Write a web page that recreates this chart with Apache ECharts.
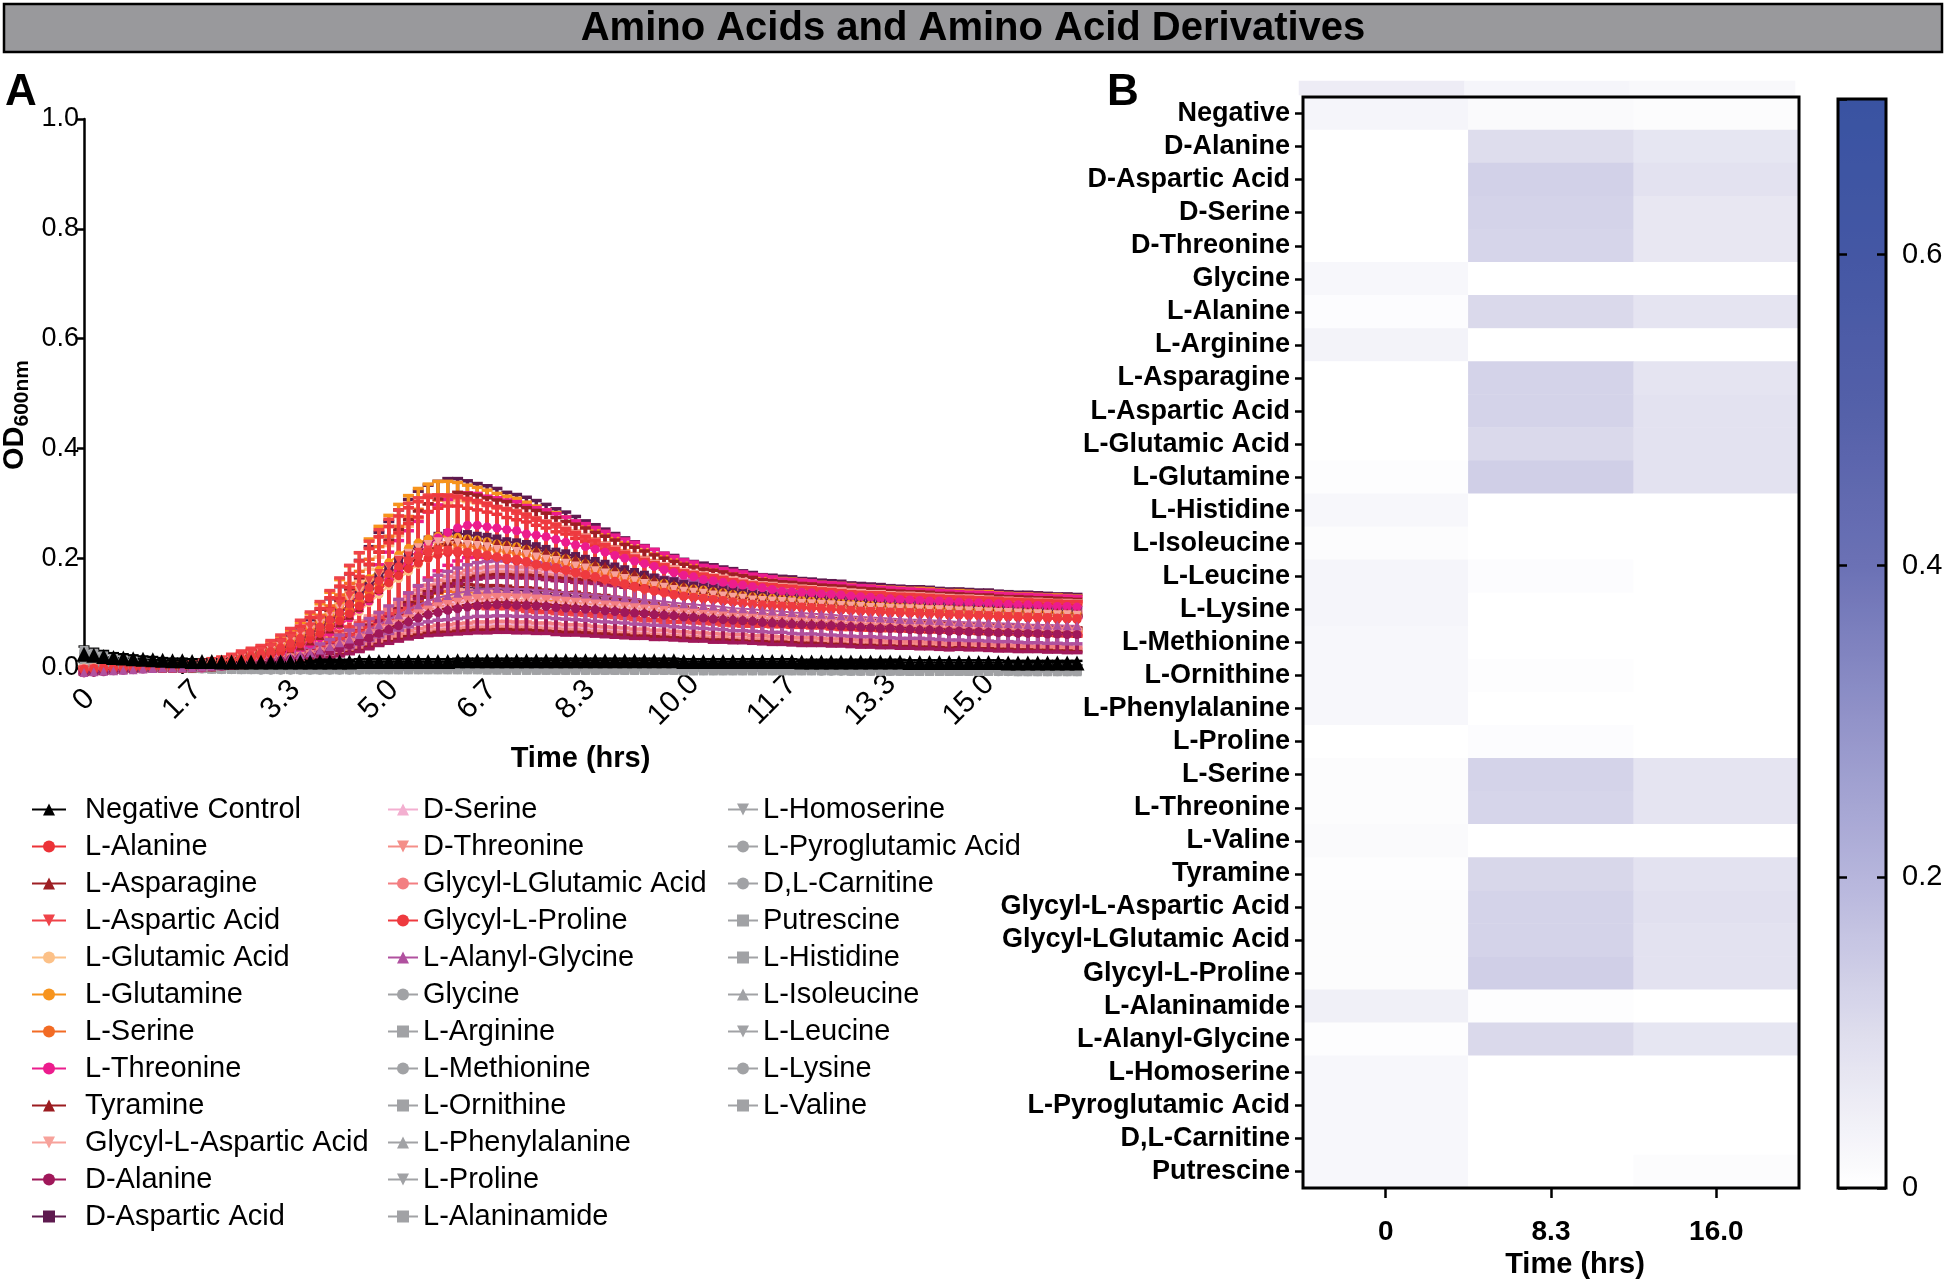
<!DOCTYPE html>
<html><head><meta charset="utf-8">
<script src="https://cdn.jsdelivr.net/npm/echarts@6/dist/echarts.min.js"></script>
<style>html,body{margin:0;padding:0;background:#fff}#c{width:1946px;height:1281px}</style>
</head><body><div id="c"></div>
<script>
// ================= DATA =================
const chartTitle = 'Amino Acids and Amino Acid Derivatives';
const timeMin = [0,10,20,30,40,50,60,70,80,90,100,110,120,130,140,150,160,170,180,190,200,210,220,230,240,250,260,270,280,290,300,310,320,330,340,350,360,370,380,390,400,410,420,430,440,450,460,470,480,490,500,510,520,530,540,550,560,570,580,590,600,610,620,630,640,650,660,670,680,690,700,710,720,730,740,750,760,770,780,790,800,810,820,830,840,850,860,870,880,890,900,910,920,930,940,950,960,970,980,990,1000,1010];
const xTickLabels = ['0','1.7','3.3','5.0','6.7','8.3','10.0','11.7','13.3','15.0'];
const yTickLabels = ['0.0','0.2','0.4','0.6','0.8','1.0'];

// OD600 means (x1000)
const mNeg = [25,23,21,19,18,17,16,15,14,13,13,12,12,12,11,11,11,11,11,11,11,11,11,11,11,11,11,11,12,12,12,12,12,12,12,12,12,12,13,13,13,13,13,13,13,13,13,13,13,13,13,13,13,13,13,13,13,13,13,13,13,12,12,12,12,12,12,12,12,12,12,12,12,11,11,11,11,11,11,11,11,11,11,11,10,10,10,10,10,10,10,10,10,10,9,9,9,9,9,9,9,9];
const mLAla = [-4,-3,-2,-1,0,0,0,0,0,0,0,2,4,6,8,11,13,17,21,25,29,36,44,53,63,74,86,99,113,128,143,155,168,181,191,200,206,210,210,208,206,204,202,197,195,193,189,185,181,179,174,170,166,162,158,153,149,145,141,137,134,130,128,126,124,122,120,118,116,113,112,111,110,109,108,107,106,105,104,103,102,101,100,100,99,98,98,97,96,96,95,95,94,93,93,92,91,91,90,89,89,88];
const mLAsn = [-6,-5,-4,-3,-2,-1,0,0,0,0,0,0,2,5,7,9,12,14,19,24,28,33,40,49,59,71,82,96,110,127,143,160,174,188,202,214,223,230,235,235,233,230,228,226,221,219,216,212,207,202,200,195,190,186,181,176,172,167,162,157,153,150,146,143,141,139,136,134,132,129,127,126,125,123,122,121,120,119,118,116,115,114,113,112,111,111,110,109,109,108,107,106,106,105,104,104,103,102,102,101,100,99];
const mLAsp = [-3,-2,-1,0,0,0,0,0,0,2,4,6,9,11,13,17,22,26,30,37,45,54,65,75,88,101,116,131,146,159,172,185,196,204,211,215,215,213,211,209,206,202,200,198,194,189,185,183,178,174,170,166,161,157,153,148,144,140,138,133,131,129,127,125,123,120,118,116,115,114,113,112,111,110,109,108,106,105,104,103,103,102,101,101,100,99,99,98,97,97,96,95,95,94,94,93,92,92,91,90,90,89];
const mLGlu = [0,0,0,0,1,2,3,4,5,6,6,7,8,9,10,11,13,15,18,22,26,31,37,46,55,66,77,90,103,119,134,150,163,176,189,200,209,216,220,220,218,216,213,211,207,205,202,198,194,189,187,183,178,174,169,165,161,156,152,147,143,141,136,134,132,130,128,125,123,121,119,118,117,116,114,113,112,111,110,109,108,107,106,105,104,104,103,102,102,101,100,100,99,98,98,97,96,96,95,94,94,93];
const mLGln = [-2,-1,0,0,0,0,0,0,0,0,2,5,7,10,12,14,19,24,29,34,41,50,60,72,84,98,113,130,146,163,178,192,206,218,228,235,240,240,238,235,233,230,226,223,221,216,211,206,204,199,194,190,185,180,175,170,166,161,156,154,149,146,144,142,139,137,134,132,130,128,127,126,125,124,122,121,120,119,118,116,115,114,114,113,112,112,111,110,109,109,108,107,107,106,105,104,104,103,102,102,101,100];
const mLSer = [-1,0,0,0,0,0,0,0,0,0,0,2,5,7,9,11,14,18,23,27,32,38,47,56,68,79,92,106,122,137,153,167,180,194,205,214,221,225,225,223,221,218,216,212,209,207,203,198,194,191,187,182,178,173,169,164,160,155,151,146,144,140,137,135,133,131,128,126,124,122,120,119,118,117,116,115,114,113,111,110,109,108,107,107,106,105,105,104,103,103,102,101,101,100,99,99,98,97,97,96,95,95];
const mLThr = [-2,-2,-1,-1,0,0,0,0,0,0,0,0,0,3,5,8,10,13,16,21,26,31,36,44,55,65,78,91,107,122,140,159,177,192,208,224,237,247,255,260,260,257,255,252,250,244,242,239,234,229,224,221,216,211,205,200,195,190,185,179,174,169,166,161,159,156,153,151,148,146,143,140,139,138,137,135,134,133,131,130,129,127,126,125,124,123,122,122,121,120,119,119,118,117,116,115,115,114,113,112,112,111];
const mTyr = [-6,-5,-4,-3,-2,-1,0,0,0,0,0,1,2,2,4,5,6,8,10,12,14,17,20,23,28,32,38,44,50,58,65,73,80,88,95,101,106,109,113,116,118,119,120,120,119,119,118,116,115,114,113,112,110,109,107,106,104,103,102,100,99,97,96,94,93,92,91,89,88,87,86,85,84,83,82,81,80,79,78,77,76,75,75,74,73,72,72,71,70,70,69,68,68,67,67,66,66,65,65,64,64,63];
const mGlyAsp = [-1,0,0,0,0,0,0,0,0,0,2,5,7,9,12,14,18,23,28,32,39,48,58,69,81,94,108,124,140,156,170,184,198,209,219,225,230,230,228,225,223,221,216,214,212,207,202,198,196,191,186,182,177,173,168,163,159,154,150,147,143,140,138,136,133,131,129,127,124,123,122,121,120,118,117,116,115,114,113,112,110,110,109,108,108,107,106,106,105,104,104,103,102,101,101,100,99,99,98,97,97,96];
const mDAla = [-9,-8,-7,-5,-4,-3,-2,-1,0,0,0,1,2,2,3,5,6,7,9,12,14,16,19,22,26,31,36,42,48,55,63,70,77,84,91,97,101,105,108,111,113,114,115,115,114,114,113,112,110,109,108,107,106,104,103,101,100,99,97,96,95,93,92,91,89,88,87,86,85,83,82,81,80,79,78,78,77,76,75,74,73,72,72,71,70,69,69,68,67,67,66,66,65,64,64,63,63,63,62,62,61,61];
const mDAsp = [-5,-4,-3,-2,-1,0,0,0,0,0,0,2,5,7,10,12,15,20,25,29,34,42,51,61,74,86,100,115,132,149,167,181,196,211,223,233,240,245,245,243,240,238,235,230,228,225,221,216,211,208,203,198,194,189,184,179,174,169,164,159,157,152,149,147,145,142,140,137,135,132,131,130,129,127,126,125,124,123,121,120,119,118,117,116,115,115,114,113,112,112,111,110,110,109,108,107,107,106,105,104,104,103];
const mDSer = [-3,-3,-2,-2,-1,-1,0,0,0,0,0,1,2,3,4,5,7,8,10,13,16,18,21,25,30,35,41,47,55,62,71,79,87,95,103,109,114,118,122,125,128,129,130,130,129,129,127,126,125,124,122,121,119,118,116,115,113,112,110,108,107,105,104,102,101,99,98,97,96,94,93,92,91,90,89,88,87,86,85,84,83,82,81,80,79,79,78,77,76,75,75,74,73,73,72,72,71,71,70,70,69,69];
const mDThr = [-4,-3,-3,-2,-2,-1,-1,0,0,0,0,1,2,3,4,5,6,8,10,13,15,18,21,24,29,34,39,46,53,60,68,76,84,91,99,105,110,114,118,121,123,124,125,125,124,124,123,121,120,119,118,116,115,113,112,110,109,107,106,104,103,101,100,98,97,96,94,93,92,91,90,88,87,86,85,84,83,82,81,80,80,79,78,77,76,76,75,74,73,73,72,71,71,70,70,69,69,68,68,67,67,66];
const mGlyGlu = [-2,-2,-1,-1,0,0,0,0,0,0,0,1,2,3,4,5,7,9,11,14,16,19,22,26,31,36,43,49,57,65,74,82,90,99,107,113,119,123,127,130,133,134,135,135,134,134,132,131,130,128,127,126,124,122,121,119,117,116,114,113,111,109,108,106,105,103,102,101,99,98,97,95,94,93,92,91,90,89,88,87,86,85,84,83,82,82,81,80,79,78,78,77,76,76,75,75,74,73,73,72,72,71];
const mGlyPro = [-2,-1,0,0,0,0,0,0,0,0,2,4,6,9,11,13,17,22,26,30,37,45,54,65,75,88,101,116,131,146,159,172,185,196,204,211,215,215,213,211,209,206,202,200,198,194,189,185,183,178,174,170,166,161,157,153,148,144,140,138,133,131,129,127,125,123,120,118,116,115,114,113,112,111,110,109,108,106,105,104,103,103,102,101,101,100,99,99,98,97,97,96,95,95,94,94,93,92,92,91,90,90];
const mAlaGly = [-8,-7,-6,-5,-4,-3,-2,-1,0,0,0,1,2,3,4,6,7,9,12,15,17,20,24,28,33,39,46,53,61,70,79,88,97,106,115,122,128,132,136,140,143,144,145,145,144,144,142,141,139,138,136,135,133,131,130,128,126,124,123,121,119,117,116,114,113,111,109,108,107,105,104,103,101,100,99,98,97,95,94,93,92,91,90,89,88,88,87,86,85,84,83,83,82,81,81,80,79,79,78,78,77,77];
const mGly = [18,15,12,9,7,5,3,2,1,0,0,-1,-1,-2,-2,-2,-3,-3,-3,-3,-3,-3,-3,-3,-3,-3,-3,-3,-3,-3,-3,-3,-3,-3,-3,-2,-2,-2,-2,-2,-2,-2,-2,-2,-2,-2,-3,-3,-3,-3,-3,-3,-3,-3,-3,-3,-3,-3,-3,-4,-4,-4,-4,-4,-4,-4,-4,-4,-4,-4,-4,-4,-4,-4,-4,-4,-5,-5,-5,-5,-5,-5,-5,-5,-5,-5,-5,-5,-5,-5,-5,-5,-5,-5,-5,-5,-6,-6,-6,-6,-6,-6];
const mLArg = [25,21,17,13,10,7,5,3,2,1,0,0,-1,-1,-1,-2,-2,-2,-2,-2,-2,-2,-2,-2,-2,-2,-2,-2,-2,-2,-2,-2,-2,-1,-1,-1,-1,-1,-1,-1,-1,-1,-1,-1,-2,-2,-2,-2,-2,-2,-2,-2,-2,-2,-2,-3,-3,-3,-3,-3,-3,-3,-3,-3,-3,-3,-3,-3,-4,-4,-4,-4,-4,-4,-4,-4,-4,-4,-4,-4,-4,-4,-5,-5,-5,-5,-5,-5,-5,-5,-5,-5,-5,-5,-5,-5,-5,-5,-5,-5,-5,-5];
const mLMet = [20,17,13,10,7,5,3,2,1,0,-1,-1,-2,-2,-3,-3,-3,-3,-4,-4,-4,-4,-4,-4,-4,-4,-4,-4,-4,-3,-3,-3,-3,-3,-3,-3,-3,-3,-3,-3,-3,-3,-3,-3,-3,-3,-3,-3,-4,-4,-4,-4,-4,-4,-4,-4,-4,-4,-4,-4,-4,-5,-5,-5,-5,-5,-5,-5,-5,-5,-5,-5,-5,-5,-5,-6,-6,-6,-6,-6,-6,-6,-6,-6,-6,-6,-6,-6,-6,-6,-6,-6,-6,-7,-7,-7,-7,-7,-7,-7,-7,-7];
const mLOrn = [22,18,14,11,8,6,4,2,1,0,0,-1,-1,-1,-2,-2,-2,-2,-2,-2,-2,-2,-2,-2,-1,-1,-1,-1,-1,0,0,0,0,0,0,0,0,0,0,0,0,-1,-1,-1,-1,-1,-1,-1,-1,-1,-1,-2,-2,-2,-2,-2,-2,-2,-2,-2,-2,-3,-3,-3,-3,-3,-3,-3,-3,-3,-3,-3,-3,-4,-4,-4,-4,-4,-4,-4,-4,-4,-4,-4,-4,-4,-4,-5,-5,-5,-5,-5,-5,-5,-5,-5,-5,-5,-5,-5,-5,-5];
const mLPhe = [20,16,13,10,7,5,4,3,2,1,0,0,-1,-1,-1,-1,-2,-2,-2,-2,-2,-2,-2,-3,-3,-3,-3,-3,-3,-3,-3,-3,-3,-3,-3,-3,-3,-3,-3,-3,-3,-3,-3,-4,-4,-4,-4,-4,-4,-4,-4,-4,-4,-4,-4,-4,-4,-4,-4,-4,-4,-5,-5,-5,-5,-5,-5,-5,-5,-5,-5,-5,-5,-5,-5,-5,-5,-5,-6,-6,-6,-6,-6,-6,-6,-6,-6,-6,-6,-6,-6,-6,-6,-6,-6,-7,-7,-7,-7,-7,-7,-7];
const mLPro = [5,4,3,2,1,0,0,0,0,-1,-1,-1,-1,-1,-1,-1,-1,-1,-1,-1,-1,-1,-1,-1,0,0,0,0,1,1,1,1,1,1,1,1,1,1,1,0,0,0,0,0,0,0,0,-1,-1,-1,-1,-1,-1,-1,-1,-1,-1,-2,-2,-2,-2,-2,-2,-2,-2,-2,-2,-2,-2,-3,-3,-3,-3,-3,-3,-3,-3,-3,-3,-3,-3,-3,-3,-3,-4,-4,-4,-4,-4,-4,-4,-4,-4,-4,-4,-4,-4,-4,-4,-4,-4,-4];
const mLAlaAm = [32,27,22,17,13,10,7,5,3,2,1,0,0,-1,-1,-1,-2,-2,-2,-2,-2,-2,-2,-2,-2,-2,-2,-2,-2,-2,-2,-1,-1,-1,-1,-1,-1,-1,-1,-1,-1,-1,-1,-1,-1,-1,-1,-2,-2,-2,-2,-2,-2,-2,-2,-2,-2,-2,-2,-3,-3,-3,-3,-3,-3,-3,-3,-3,-3,-3,-3,-4,-4,-4,-4,-4,-4,-4,-4,-4,-4,-4,-4,-4,-4,-4,-5,-5,-5,-5,-5,-5,-5,-5,-5,-5,-5,-5,-5,-5,-5,-5];
const mLHse = [20,16,12,9,7,5,3,2,1,0,0,-1,-1,-2,-2,-2,-2,-3,-3,-3,-3,-3,-3,-3,-3,-3,-3,-3,-3,-3,-3,-3,-3,-3,-3,-3,-3,-3,-3,-3,-3,-3,-4,-4,-4,-4,-4,-4,-4,-4,-4,-4,-4,-4,-4,-4,-4,-4,-4,-4,-4,-4,-4,-5,-5,-5,-5,-5,-5,-5,-5,-5,-5,-5,-5,-5,-5,-5,-5,-5,-5,-6,-6,-6,-6,-6,-6,-6,-6,-6,-6,-6,-6,-6,-6,-6,-6,-6,-6,-6,-6,-6];
const mLPyr = [19,16,13,10,8,6,4,3,2,1,0,0,-1,-1,-1,-2,-2,-2,-2,-3,-3,-3,-3,-3,-3,-3,-3,-3,-3,-3,-3,-2,-2,-2,-2,-2,-2,-2,-2,-2,-2,-2,-2,-2,-2,-3,-3,-3,-3,-3,-3,-3,-3,-3,-3,-3,-3,-3,-3,-3,-3,-4,-4,-4,-4,-4,-4,-4,-4,-4,-4,-4,-4,-4,-4,-4,-4,-5,-5,-5,-5,-5,-5,-5,-5,-5,-5,-5,-5,-5,-5,-5,-5,-5,-5,-5,-5,-6,-6,-6,-6,-6];
const mCarn = [21,17,14,11,8,6,4,3,2,1,0,-1,-1,-1,-2,-2,-2,-2,-2,-2,-2,-2,-2,-2,-2,-2,-2,-2,-1,-1,-1,-1,-1,-1,-1,-1,-1,-1,-1,-1,-1,-1,-1,-2,-2,-2,-2,-2,-2,-2,-2,-2,-2,-2,-2,-2,-3,-3,-3,-3,-3,-3,-3,-3,-3,-3,-3,-3,-3,-3,-3,-4,-4,-4,-4,-4,-4,-4,-4,-4,-4,-4,-4,-4,-4,-4,-4,-4,-4,-5,-5,-5,-5,-5,-5,-5,-5,-5,-5,-5,-5,-5];
const mPut = [20,16,13,10,7,5,3,2,1,0,0,0,-1,-1,-1,-1,-1,-1,-1,-1,-1,-1,-1,-1,-1,-1,-1,0,0,0,0,0,0,0,0,0,0,0,0,0,0,0,0,0,0,0,0,0,-1,-1,-1,-1,-1,-1,-1,-1,-1,-1,-1,-1,-1,-1,-1,-1,-1,-1,-1,-1,-1,-1,-1,-1,-1,-1,-1,-1,-1,-1,-1,-1,-1,-1,0,0,0,0,0,0,0,0,0,0,0,0,0,0,0,0,0,0,0,0,0];
const mLHis = [19,16,12,9,7,5,3,2,1,0,0,-1,-1,-2,-2,-2,-3,-3,-3,-3,-3,-3,-3,-3,-3,-3,-3,-3,-3,-3,-3,-3,-3,-3,-3,-3,-3,-3,-3,-3,-3,-4,-4,-4,-4,-4,-4,-4,-4,-4,-4,-4,-4,-4,-4,-4,-4,-4,-4,-4,-4,-5,-5,-5,-5,-5,-5,-5,-5,-5,-5,-5,-5,-5,-5,-5,-5,-5,-5,-5,-5,-5,-5,-5,-6,-6,-6,-6,-6,-6,-6,-6,-6,-6,-6,-6,-6,-6,-6,-6,-6,-6];
const mLIle = [9,8,6,5,4,3,2,1,0,0,-1,-1,-1,-2,-2,-2,-2,-2,-2,-2,-2,-2,-2,-2,-2,-2,-2,-2,-2,-2,-2,-2,-2,-2,-2,-2,-2,-2,-2,-2,-2,-2,-2,-2,-3,-3,-3,-3,-3,-3,-3,-3,-3,-3,-3,-3,-3,-3,-3,-3,-3,-3,-3,-3,-4,-4,-4,-4,-4,-4,-4,-4,-4,-4,-4,-4,-4,-4,-4,-4,-4,-4,-4,-5,-5,-5,-5,-5,-5,-5,-5,-5,-5,-5,-5,-5,-5,-5,-5,-5,-5,-5];
const mLLeu = [24,20,16,13,10,7,5,4,3,2,1,1,1,0,0,0,0,0,0,0,0,0,0,0,0,0,1,1,1,1,1,1,1,1,1,1,1,1,1,1,1,1,1,1,1,1,0,0,0,0,0,0,0,0,0,0,0,0,0,0,0,-1,-1,-1,-1,-1,-1,-1,-1,-1,-1,-1,-1,-1,-1,-1,-1,-2,-2,-2,-2,-2,-2,-2,-2,-2,-2,-2,-2,-2,-2,-2,-2,-2,-2,-2,-2,-2,-2,-2,-2,-2];
const mLLys = [24,20,16,12,9,7,5,3,2,1,0,-1,-1,-1,-2,-2,-2,-2,-2,-2,-2,-2,-2,-2,-2,-2,-2,-2,-2,-2,-2,-2,-2,-2,-2,-2,-2,-2,-2,-2,-2,-2,-3,-3,-3,-3,-3,-3,-3,-3,-3,-3,-3,-3,-3,-3,-3,-3,-3,-3,-3,-4,-4,-4,-4,-4,-4,-4,-4,-4,-4,-4,-4,-4,-4,-4,-4,-4,-4,-4,-4,-5,-5,-5,-5,-5,-5,-5,-5,-5,-5,-5,-5,-5,-5,-5,-5,-5,-5,-5,-5,-5];
const mLVal = [14,12,10,8,6,4,3,2,1,0,0,-1,-1,-1,-1,-2,-2,-2,-2,-2,-2,-2,-2,-2,-2,-2,-2,-2,-2,-2,-2,-2,-2,-2,-2,-1,-1,-1,-1,-1,-1,-1,-1,-1,-1,-1,-2,-2,-2,-2,-2,-2,-2,-2,-2,-2,-2,-2,-2,-2,-2,-3,-3,-3,-3,-3,-3,-3,-3,-3,-3,-3,-3,-3,-3,-3,-3,-3,-3,-4,-4,-4,-4,-4,-4,-4,-4,-4,-4,-4,-4,-4,-4,-4,-4,-4,-4,-4,-4,-4,-4,-4];

// standard deviations (x1000)
const sdNeg = [14,12,10,8,7,6,5,5,4,4,4,4,4,4,4,4,4,4,4,4,4,4,4,4,4,4,4,4,4,4,4,4,4,4,4,4,4,4,4,4,4,4,4,4,4,4,4,4,4,4,4,4,4,4,4,4,4,4,4,4,4,4,4,4,4,4,4,4,4,4,4,4,4,4,4,4,4,4,4,4,4,4,4,4,4,4,4,4,4,4,4,4,4,4,4,4,4,4,4,4,4,4];
const sdHi = [3,3,3,3,3,3,3,3,3,3,3,4,5,6,7,8,9,10,11,13,15,18,22,27,33,40,48,56,64,72,80,86,92,96,99,100,100,100,100,98,96,94,92,90,88,86,84,82,79,76,73,70,67,64,61,58,56,54,52,50,48,46,45,44,43,42,41,40,39,38,38,37,37,36,36,35,35,35,34,34,34,34,33,33,33,33,33,32,32,32,32,32,32,31,31,31,31,31,31,31,31,31];
const sdMid = [3,3,3,3,3,3,3,3,3,3,3,4,4,5,6,7,8,9,10,11,13,15,19,23,28,34,41,48,54,61,68,73,78,82,84,85,85,85,85,83,82,80,78,77,75,73,71,70,67,65,62,60,57,54,52,49,48,46,44,43,41,39,38,37,37,36,35,34,33,32,32,31,31,31,31,30,30,30,29,29,29,29,28,28,28,28,28,27,27,27,27,27,27,26,26,26,26,26,26,26,26,26];
const sdPk = [2,2,2,2,2,2,2,2,2,2,2,3,3,4,4,5,5,6,7,8,9,11,13,16,20,24,29,34,38,43,48,52,55,58,59,60,60,60,60,59,58,56,55,54,53,52,50,49,47,46,44,42,40,38,37,35,34,32,31,30,29,28,27,26,26,25,25,24,23,23,23,22,22,22,22,21,21,21,20,20,20,20,20,20,20,20,20,19,19,19,19,19,19,19,19,19,19,19,19,19,19,19];
const sdLo = [2,2,2,2,2,2,2,2,2,2,2,2,3,3,3,4,4,5,5,6,7,8,9,10,11,13,14,16,18,20,22,25,28,31,35,38,41,44,46,48,49,50,50,50,50,50,50,49,49,49,48,48,48,47,47,46,46,45,45,44,44,43,43,42,42,41,41,40,40,39,39,38,38,38,37,37,37,36,36,36,35,35,35,35,34,34,34,34,34,33,33,33,33,33,33,33,33,33,33,33,33,33];

// legend columns
const legendCol1 = ['Negative Control','L-Alanine','L-Asparagine','L-Aspartic Acid','L-Glutamic Acid','L-Glutamine','L-Serine','L-Threonine','Tyramine','Glycyl-L-Aspartic Acid','D-Alanine','D-Aspartic Acid'];
const legendCol2 = ['D-Serine','D-Threonine','Glycyl-LGlutamic Acid','Glycyl-L-Proline','L-Alanyl-Glycine','Glycine','L-Arginine','L-Methionine','L-Ornithine','L-Phenylalanine','L-Proline','L-Alaninamide'];
const legendCol3 = ['L-Homoserine','L-Pyroglutamic Acid','D,L-Carnitine','Putrescine','L-Histidine','L-Isoleucine','L-Leucine','L-Lysine','L-Valine'];

// heatmap (panel B)
const heatRows = ['Negative','D-Alanine','D-Aspartic Acid','D-Serine','D-Threonine','Glycine','L-Alanine','L-Arginine','L-Asparagine','L-Aspartic Acid','L-Glutamic Acid','L-Glutamine','L-Histidine','L-Isoleucine','L-Leucine','L-Lysine','L-Methionine','L-Ornithine','L-Phenylalanine','L-Proline','L-Serine','L-Threonine','L-Valine','Tyramine','Glycyl-L-Aspartic Acid','Glycyl-LGlutamic Acid','Glycyl-L-Proline','L-Alaninamide','L-Alanyl-Glycine','L-Homoserine','L-Pyroglutamic Acid','D,L-Carnitine','Putrescine'];
const heatCols = ['0','8.3','16.0'];
const heatAt0  = [0.030,0.000,0.000,0.000,0.000,0.025,0.008,0.035,0.000,0.000,0.000,0.005,0.025,0.010,0.030,0.030,0.025,0.025,0.025,0.000,0.010,0.010,0.015,0.005,0.010,0.010,0.010,0.045,0.005,0.025,0.025,0.025,0.025];
const heatAt83 = [0.015,0.100,0.130,0.125,0.120,0.000,0.110,0.000,0.125,0.125,0.110,0.135,0.000,0.000,0.008,0.000,0.000,0.005,0.000,0.008,0.125,0.120,0.000,0.115,0.125,0.125,0.135,0.005,0.110,0.000,0.000,0.000,0.000];
const heatAt16 = [0.010,0.075,0.085,0.070,0.070,0.000,0.080,0.000,0.080,0.085,0.085,0.085,0.000,0.000,0.000,0.000,0.000,0.000,0.000,0.000,0.080,0.080,0.000,0.085,0.090,0.085,0.085,0.000,0.075,0.000,0.000,0.000,0.010];
const stripVals = [0.055,0.030,0.020];
const colorbarTicks = ['0','0.2','0.4','0.6'];

// ================= STYLE / CONFIG =================
const GRAY = '#a1a2a5';
const INV = 'path://M0,0L10,0L5,9Z';
const info = {
 'Negative Control':{m:mNeg,sd:sdNeg,c:'#000000',s:'triangle',z:15},
 'L-Alanine':{m:mLAla,sd:sdMid,c:'#ec3237',s:'circle'},
 'L-Asparagine':{m:mLAsn,sd:sdMid,c:'#9e1f24',s:'triangle'},
 'L-Aspartic Acid':{m:mLAsp,sd:sdHi,c:'#ef4349',s:INV},
 'L-Glutamic Acid':{m:mLGlu,sd:sdMid,c:'#fcc188',s:'circle'},
 'L-Glutamine':{m:mLGln,sd:sdHi,c:'#f7941d',s:'circle'},
 'L-Serine':{m:mLSer,sd:sdMid,c:'#f26b24',s:'circle'},
 'L-Threonine':{m:mLThr,sd:sdPk,c:'#ec1c8d',s:'circle'},
 'Tyramine':{m:mTyr,sd:sdLo,c:'#9b1c20',s:'triangle'},
 'Glycyl-L-Aspartic Acid':{m:mGlyAsp,sd:sdMid,c:'#f7a29b',s:INV},
 'D-Alanine':{m:mDAla,sd:sdLo,c:'#a0185a',s:'circle'},
 'D-Aspartic Acid':{m:mDAsp,sd:sdHi,c:'#5e1a4f',s:'rect'},
 'D-Serine':{m:mDSer,sd:sdLo,c:'#f3afd0',s:'triangle'},
 'D-Threonine':{m:mDThr,sd:sdLo,c:'#f48e88',s:INV},
 'Glycyl-LGlutamic Acid':{m:mGlyGlu,sd:sdLo,c:'#f37f82',s:'circle'},
 'Glycyl-L-Proline':{m:mGlyPro,sd:sdHi,c:'#ee3a3f',s:'circle'},
 'L-Alanyl-Glycine':{m:mAlaGly,sd:sdLo,c:'#b0519f',s:'triangle'},
 'Glycine':{m:mGly,c:GRAY,s:'circle'},
 'L-Arginine':{m:mLArg,c:GRAY,s:'rect'},
 'L-Methionine':{m:mLMet,c:GRAY,s:'circle'},
 'L-Ornithine':{m:mLOrn,c:GRAY,s:'rect'},
 'L-Phenylalanine':{m:mLPhe,c:GRAY,s:'triangle'},
 'L-Proline':{m:mLPro,c:GRAY,s:INV},
 'L-Alaninamide':{m:mLAlaAm,c:GRAY,s:'rect'},
 'L-Homoserine':{m:mLHse,c:GRAY,s:INV},
 'L-Pyroglutamic Acid':{m:mLPyr,c:GRAY,s:'circle'},
 'D,L-Carnitine':{m:mCarn,c:GRAY,s:'circle'},
 'Putrescine':{m:mPut,c:GRAY,s:'rect'},
 'L-Histidine':{m:mLHis,c:GRAY,s:'rect'},
 'L-Isoleucine':{m:mLIle,c:GRAY,s:'triangle'},
 'L-Leucine':{m:mLLeu,c:GRAY,s:INV},
 'L-Lysine':{m:mLLys,c:GRAY,s:'circle'},
 'L-Valine':{m:mLVal,c:GRAY,s:'rect'}
};
const grayOrder = ['Glycine','L-Arginine','L-Methionine','L-Ornithine','L-Phenylalanine','L-Proline','L-Alaninamide','L-Homoserine','L-Pyroglutamic Acid','D,L-Carnitine','Putrescine','L-Histidine','L-Isoleucine','L-Leucine','L-Lysine','L-Valine'];
const colorOrder = ['D-Aspartic Acid','L-Glutamine','L-Glutamic Acid','L-Serine','L-Threonine','L-Asparagine','Glycyl-L-Aspartic Acid','D-Serine','D-Threonine','Glycyl-LGlutamic Acid','Tyramine','D-Alanine','L-Alanine','L-Aspartic Acid','Glycyl-L-Proline','L-Alanyl-Glycine','Negative Control'];

const FF = 'Liberation Sans';
const HF = 'Liberation Sans';
const HS = 27;

const T = timeMin.map(m=>m/60);
const STEP = 100/60;

function errSeries(name){
  const o = info[name];
  const data = o.m.map((v,i)=>[T[i],(v-o.sd[i])/1000,(v+o.sd[i])/1000]);
  const lw = name==='Negative Control'?2.5:3.5;
  return {type:'custom',name:name+' (SD)',xAxisIndex:0,yAxisIndex:0,clip:false,silent:true,animation:false,
    data, encode:{x:0,y:[1,2]},
    renderItem:(p,api)=>{
      const x=api.value(0);
      const lo=api.coord([x,api.value(1)]), hi=api.coord([x,api.value(2)]);
      const hw=5.5, st={stroke:o.c,lineWidth:lw,fill:null};
      return {type:'group',children:[
        {type:'line',shape:{x1:lo[0],y1:lo[1],x2:hi[0],y2:hi[1]},style:st},
        {type:'line',shape:{x1:hi[0]-hw,y1:hi[1],x2:hi[0]+hw,y2:hi[1]},style:st},
        {type:'line',shape:{x1:lo[0]-hw,y1:lo[1],x2:lo[0]+hw,y2:lo[1]},style:st}]};
    }};
}
function lineSeries(name){
  const o = info[name];
  return {type:'line',name,xAxisIndex:0,yAxisIndex:0,clip:false,animation:false,silent:true,
    data:o.m.map((v,i)=>[T[i],v/1000]),
    symbol:o.s,symbolSize:o.z||9,showSymbol:true,
    lineStyle:{color:o.c,width:2},itemStyle:{color:o.c,borderWidth:0},emphasis:{disabled:true}};
}

const series = [];
colorOrder.forEach(n=>series.push(errSeries(n)));
grayOrder.forEach(n=>series.push(lineSeries(n)));
colorOrder.forEach(n=>series.push(lineSeries(n)));

const heatData = [];
heatRows.forEach((r,j)=>{[heatAt0,heatAt83,heatAt16].forEach((arr,i)=>heatData.push([i,j,arr[j]]));});
const heatIdx = series.length;
series.push({type:'heatmap',xAxisIndex:1,yAxisIndex:1,data:heatData,silent:true,animation:false,itemStyle:{borderWidth:0}});
const stripIdx = series.length;
series.push({type:'heatmap',xAxisIndex:2,yAxisIndex:2,data:stripVals.map((v,i)=>[i,0,v]),silent:true,animation:false});

function legend(names,left,iw,textPad){
  return {data:names,orient:'vertical',left,top:795,padding:0,itemGap:8,itemWidth:iw,itemHeight:15,
    selectedMode:false,textStyle:{fontFamily:FF,fontSize:29,color:'#000',padding:[0,0,0,textPad]}};
}

const option = {
  animation:false,
  textStyle:{fontFamily:FF},
  graphic:[
    {type:'rect',shape:{x:4,y:4,width:1938,height:48},style:{fill:'#99999c',stroke:'#000',lineWidth:2.5},z:0},
    {type:'text',left:'center',top:9,style:{text:chartTitle,font:"bold 40px 'Liberation Sans'",fill:'#000'},z:1},
    {type:'text',left:5,top:71,style:{text:'A',font:"bold 44px 'Liberation Sans'",fill:'#000'}},
    {type:'text',left:1107,top:71,style:{text:'B',font:"bold 44px 'Liberation Sans'",fill:'#000'}},
    {type:'text',x:15,y:415,rotation:Math.PI/2,silent:true,
      style:{text:'{a|OD}{b|600nm}',align:'center',verticalAlign:'middle',
        rich:{a:{fontFamily:FF,fontWeight:'bold',fontSize:29,lineHeight:36,verticalAlign:'middle',fill:'#000'},
              b:{fontFamily:FF,fontWeight:'bold',fontSize:21,lineHeight:21,verticalAlign:'bottom',fill:'#000'}}}}
  ],
  legend:[legend(legendCol1,31,34,14),legend(legendCol2,387,30,0),legend(legendCol3,727,30,0)],
  grid:[
    {left:84,top:119,width:993,height:549,outerBoundsMode:'none'},
    {left:1303,top:97,width:496,height:1091,show:true,borderColor:'#000',borderWidth:3,backgroundColor:'transparent',z:5,outerBoundsMode:'none'},
    {left:1299,top:81,width:496,height:14,outerBoundsMode:'none'},
    {left:1838,top:99,width:48,height:1089,show:true,borderColor:'#000',borderWidth:3,backgroundColor:'transparent',z:10,outerBoundsMode:'none'}
  ],
  xAxis:[
    {gridIndex:0,type:'value',min:0,max:1010/60,interval:STEP,
      axisLine:{onZero:false,lineStyle:{color:'#000',width:2.5}},axisTick:{length:6,lineStyle:{color:'#000',width:2.5}},
      splitLine:{show:false},
      axisLabel:{rotate:45,margin:32,fontSize:30,fontFamily:FF,color:'#000',showMaxLabel:false,align:'center',verticalAlign:'middle',
        formatter:v=>{const k=Math.round(v/STEP);return Math.abs(v-k*STEP)<1e-6&&xTickLabels[k]!==undefined?xTickLabels[k]:'';}},
      name:'Time (hrs)',nameLocation:'middle',nameGap:76,nameTextStyle:{fontFamily:FF,fontWeight:'bold',fontSize:29,color:'#000'}},
    {gridIndex:1,type:'category',data:heatCols,axisLine:{show:false},
      axisTick:{show:true,alignWithLabel:true,length:10,lineStyle:{color:'#000',width:2.5}},
      axisLabel:{interval:0,fontFamily:HF,fontWeight:'bold',fontSize:HS+1,color:'#000',margin:30},splitLine:{show:false},
      name:'Time (hrs)',nameLocation:'middle',nameGap:62,nameTextStyle:{fontFamily:FF,fontWeight:'bold',fontSize:29,color:'#000',padding:[0,0,0,48]}},
    {gridIndex:2,type:'category',data:heatCols,show:false},
    {gridIndex:3,type:'value',show:false}
  ],
  yAxis:[
    {gridIndex:0,type:'value',min:0,max:1,interval:0.2,
      axisLine:{show:true,lineStyle:{color:'#000',width:2.5}},axisTick:{show:true,length:7,lineStyle:{color:'#000',width:2.5}},
      splitLine:{show:false},
      axisLabel:{margin:5,fontSize:27,fontFamily:FF,color:'#000',formatter:v=>yTickLabels[Math.round(v/0.2)]}},
    {gridIndex:1,type:'category',data:heatRows,inverse:true,axisLine:{show:false},
      axisTick:{show:true,alignWithLabel:true,length:8,lineStyle:{color:'#000',width:2.5}},
      axisLabel:{interval:0,fontFamily:HF,fontWeight:'bold',fontSize:HS,color:'#000',margin:13},splitLine:{show:false}},
    {gridIndex:2,type:'category',data:['strip'],show:false},
    {gridIndex:3,type:'value',min:0,max:0.7,interval:0.2,position:'left',z:11,
      axisLine:{show:false},axisTick:{show:true,inside:true,length:9,lineStyle:{color:'#000',width:2.5}},
      axisLabel:{show:false},splitLine:{show:false}},
    {gridIndex:3,type:'value',min:0,max:0.7,interval:0.2,position:'right',z:11,
      axisLine:{show:false},axisTick:{show:true,inside:true,length:9,lineStyle:{color:'#000',width:2.5}},
      axisLabel:{show:true,margin:16,fontSize:29,fontFamily:FF,color:'#000',showMaxLabel:false,
        formatter:v=>{const k=Math.round(v/0.2);return Math.abs(v-k*0.2)<1e-6&&colorbarTicks[k]!==undefined?colorbarTicks[k]:'';}},
      splitLine:{show:false}}
  ],
  visualMap:{type:'continuous',min:0,max:0.7,seriesIndex:[heatIdx,stripIdx],left:1838,top:99,padding:0,
    itemWidth:48,itemHeight:1089,calculable:false,hoverLink:false,realtime:false,orient:'vertical',
    inRange:{color:['#ffffff','#dedded','#b6b5dc','#9293c9','#6b71b5','#5460a9','#4457a4','#3953a2']}},
  series
};
const chart = echarts.init(document.getElementById('c'),null,{renderer:'canvas'});
chart.setOption(option);
</script></body></html>
